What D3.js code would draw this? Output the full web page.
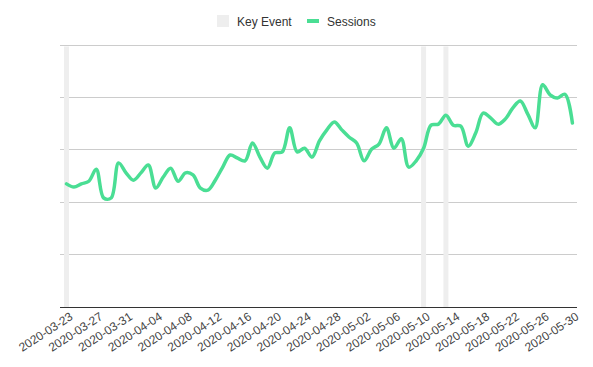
<!DOCTYPE html>
<html>
<head>
<meta charset="utf-8">
<script src="https://cdn.jsdelivr.net/npm/d3@7"></script>
<style>
  html, body { margin: 0; padding: 0; background: #fff; }
  svg { display: block; font-family: "Liberation Sans", Arial, sans-serif; }
</style>
</head>
<body>
<svg id="chart" width="593" height="367"></svg>
<script>
const startDate = "2020-03-23";
const sessions = [235, 229, 235, 240, 263, 208, 208, 275, 256, 242,
  256, 271, 227, 248, 265, 240, 256, 252, 227, 223,
  242, 267, 290, 284, 279, 313, 286, 265, 294, 296,
  342, 296, 303, 286, 317, 338, 353, 338, 324, 313,
  279, 301, 311, 342, 303, 321, 267, 279, 303, 347,
  349, 366, 347, 345, 307, 332, 370, 361, 349, 359,
  380, 393, 368, 342, 424, 405, 399, 406, 351];
const keyEvents = ["2020-03-23", "2020-05-10", "2020-05-13"];
const yTicks = [0, 100, 200, 300, 400, 500];
const tickEveryDays = 4;
const legendLabels = ["Key Event", "Sessions"];

const parse = d3.utcParse("%Y-%m-%d");
const fmt = d3.utcFormat("%Y-%m-%d");
const t0 = parse(startDate);
const data = sessions.map((v, i) => ({ date: d3.utcDay.offset(t0, i), value: v }));

const svg = d3.select("#chart");
const plot = { left: 60, right: 577, top: 45, bottom: 307 };

const x = d3.scaleUtc()
  .domain([data[0].date, data[data.length - 1].date])
  .range([66.5, 572.4]);
const y = d3.scaleLinear().domain([0, 500]).range([plot.bottom, plot.top]);

// gridlines
svg.append("g").selectAll("line").data(yTicks.slice(1)).join("line")
  .attr("x1", plot.left).attr("x2", plot.right)
  .attr("y1", d => y(d)).attr("y2", d => y(d))
  .attr("stroke", "#cccccc").attr("stroke-width", 1)
  .attr("shape-rendering", "crispEdges");

// key event bars
svg.append("g").selectAll("rect").data(keyEvents).join("rect")
  .attr("x", d => x(parse(d)) - 2.5)
  .attr("y", plot.top + 1.5)
  .attr("width", 5)
  .attr("height", plot.bottom - plot.top - 1.5)
  .attr("fill", "#eeeeee");

// x axis
const ticks = data.filter((d, i) => i % tickEveryDays === 0).map(d => d.date);
const xAxis = d3.axisBottom(x).tickValues(ticks).tickFormat(fmt).tickSize(0);
const gx = svg.append("g").attr("transform", `translate(0,${plot.bottom})`).call(xAxis);
gx.select(".domain").remove();
gx.selectAll("text")
  .attr("fill", "#444")
  .style("font-size", "12px")
  .attr("text-anchor", "end")
  .attr("dy", null)
  .attr("y", null)
  .attr("transform", "translate(5,9) rotate(-33)")
  .attr("dominant-baseline", "middle");

svg.append("line")
  .attr("x1", plot.left).attr("x2", plot.right)
  .attr("y1", plot.bottom + 0.5).attr("y2", plot.bottom + 0.5)
  .attr("stroke", "#333").attr("stroke-width", 1);

// line
const line = d3.line()
  .x(d => x(d.date)).y(d => y(d.value))
  .curve(d3.curveCatmullRom.alpha(0.5));
svg.append("path").datum(data)
  .attr("d", line)
  .attr("fill", "none")
  .attr("stroke", "#4ade94")
  .attr("stroke-width", 3.5)
  .attr("stroke-linejoin", "round")
  .attr("stroke-linecap", "round");

// legend
const lg = svg.append("g");
lg.append("rect").attr("x", 217).attr("y", 15).attr("width", 12).attr("height", 12).attr("fill", "#eeeeee");
lg.append("text").attr("x", 237).attr("y", 25.5).attr("fill", "#333").style("font-size", "12px").text(legendLabels[0]);
lg.append("line").attr("x1", 307).attr("x2", 319).attr("y1", 21).attr("y2", 21)
  .attr("stroke", "#4ade94").attr("stroke-width", 4);
lg.append("text").attr("x", 327).attr("y", 25.5).attr("fill", "#333").style("font-size", "12px").text(legendLabels[1]);
</script>
</body>
</html>
